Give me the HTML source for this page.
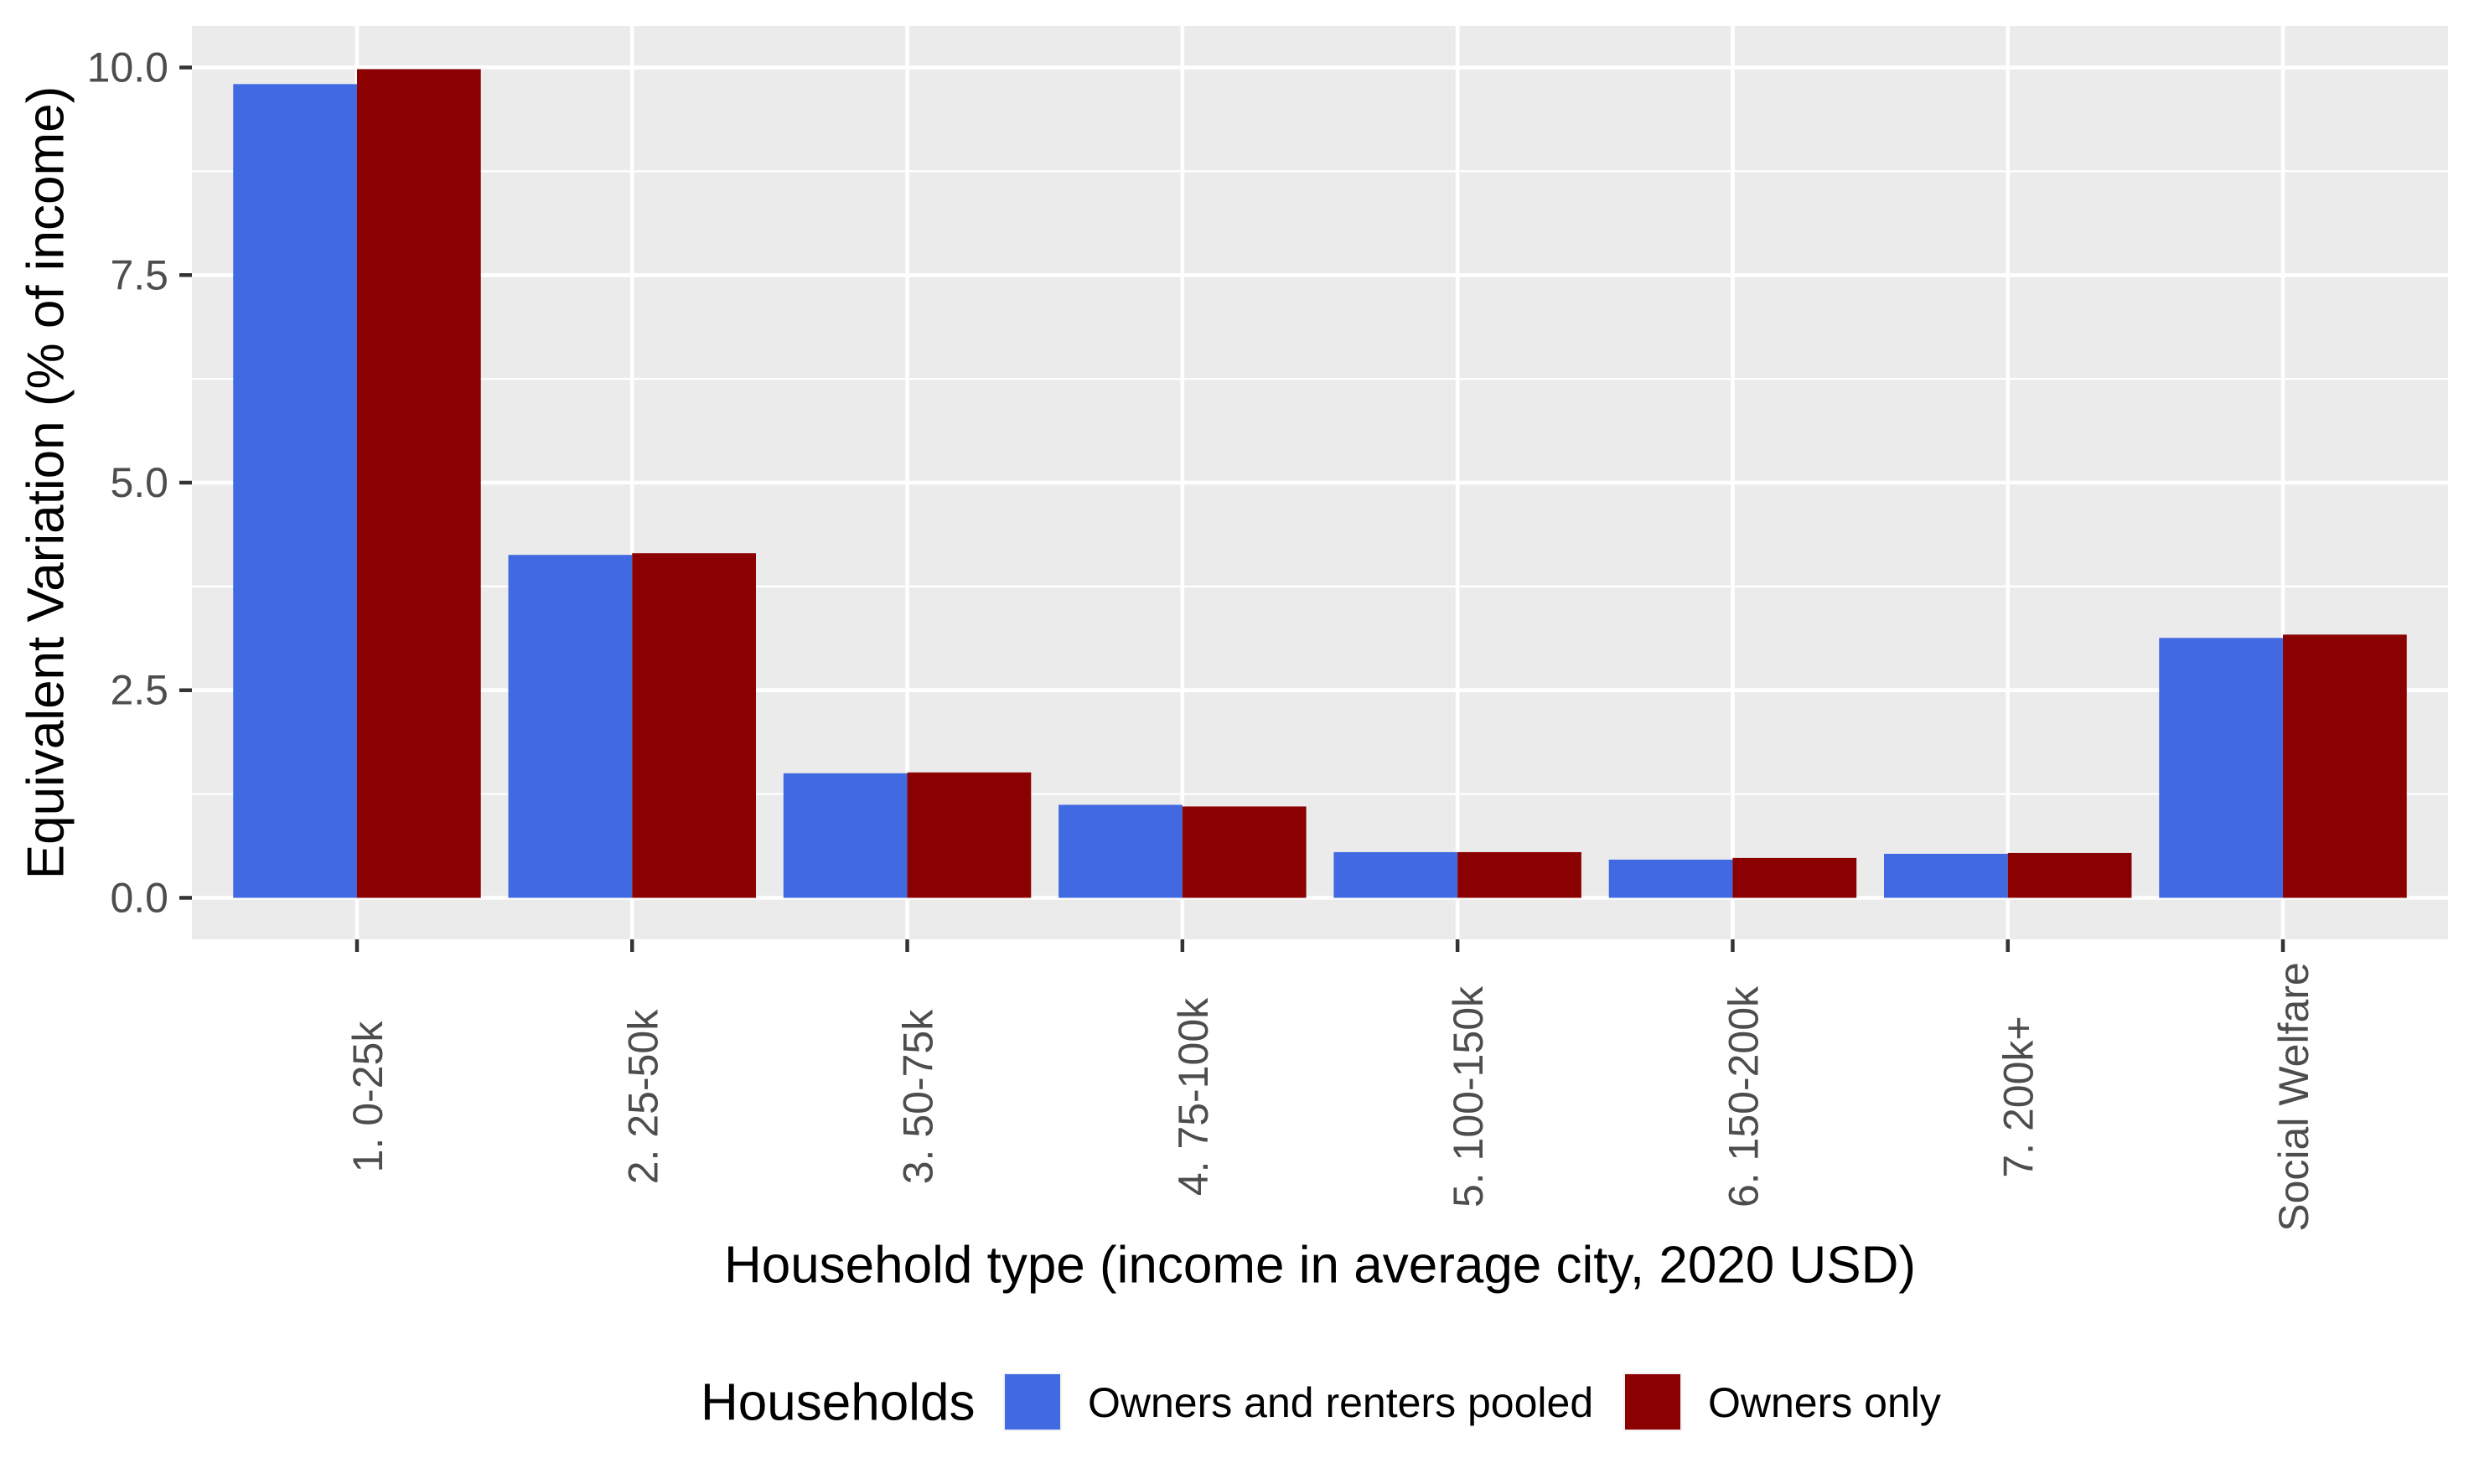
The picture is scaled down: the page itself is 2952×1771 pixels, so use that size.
<!DOCTYPE html>
<html><head><meta charset="utf-8"><style>
html,body{margin:0;padding:0;background:#fff;}
svg{display:block;font-family:"Liberation Sans",Arial,sans-serif;}
</style></head><body>
<svg id="chart" width="2952" height="1771" viewBox="0 0 2952 1771" xmlns="http://www.w3.org/2000/svg">
<rect x="0" y="0" width="2952" height="1771" fill="#fff"/>
<g id="panel"></g>
<text x="55" y="576" transform="rotate(-90 55 576)" text-anchor="middle" dominant-baseline="central" font-size="62" fill="#000">Equivalent Variation (% of income)</text>
<text x="1575" y="1510" text-anchor="middle" dominant-baseline="central" font-size="62" fill="#000">Household type (income in average city, 2020 USD)</text>
<g>
<text x="836" y="1674" dominant-baseline="central" font-size="62" fill="#000">Households</text>
<rect x="1197" y="1638" width="70" height="70" fill="#F2F2F2"/>
<rect x="1199" y="1640" width="66" height="66" fill="#4169E1"/>
<text x="1298" y="1674" dominant-baseline="central" font-size="50" fill="#000">Owners and renters pooled</text>
<rect x="1937" y="1638" width="70" height="70" fill="#F2F2F2"/>
<rect x="1939" y="1640" width="66" height="66" fill="#8B0000"/>
<text x="2038" y="1674" dominant-baseline="central" font-size="50" fill="#000">Owners only</text>
</g>
</svg>
<script>
const categories = ["1. 0-25k","2. 25-50k","3. 50-75k","4. 75-100k","5. 100-150k","6. 150-200k","7. 200k+","Social Welfare"];
const pooledValues = [9.80, 4.13, 1.50, 1.12, 0.55, 0.46, 0.53, 3.13];
const ownersValues = [9.98, 4.15, 1.51, 1.10, 0.55, 0.48, 0.54, 3.17];
const yTicks = [0, 2.5, 5, 7.5, 10];
const yTickLabels = ["0.0","2.5","5.0","7.5","10.0"];
const yMinor = [1.25, 3.75, 6.25, 8.75];

const NS = "http://www.w3.org/2000/svg";
const PL = 229, PR = 2921, PT = 31, PB = 1121;
const yMin = -0.5, yMax = 10.5;
function yScale(v){ return PB - (v - yMin) / (yMax - yMin) * (PB - PT); }
const unit = (PR - PL) / (categories.length - 1 + 1.2);
function xScale(i){ return PL + (0.6 + i) * unit; }
const barW = 0.45 * unit;

const svg = document.getElementById('chart');
const panel = document.getElementById('panel');
function mk(tag, attrs, parent){
  const e = document.createElementNS(NS, tag);
  for (const k in attrs) e.setAttribute(k, attrs[k]);
  (parent || svg).appendChild(e);
  return e;
}
const bg = mk('rect', {x:PL, y:PT, width:PR-PL, height:PB-PT, fill:'#EBEBEB'}, panel);



yMinor.forEach(v => {
  const l = mk('line', {x1:PL, x2:PR, y1:yScale(v), y2:yScale(v), stroke:'#fff', 'stroke-width':2.3}, panel);
  
  
});
yTicks.forEach((v, i) => {
  const y = yScale(v);
  const l = mk('line', {x1:PL, x2:PR, y1:y, y2:y, stroke:'#fff', 'stroke-width':4.6}, panel);
  
  
  const t = mk('line', {x1:PL-15, x2:PL, y1:y, y2:y, stroke:'#333', 'stroke-width':4.5});
  
  
  const tx = mk('text', {x:PL-28, y:y, 'text-anchor':'end', 'dominant-baseline':'central', 'font-size':50, fill:'#4D4D4D'});
  tx.textContent = yTickLabels[i];
  
  
});
categories.forEach((c, i) => {
  const x = xScale(i);
  const l = mk('line', {x1:x, x2:x, y1:PT, y2:PB, stroke:'#fff', 'stroke-width':4.6}, panel);
  
  
});
categories.forEach((c, i) => {
  const x = xScale(i);
  const b1 = mk('rect', {x:x-barW, y:yScale(pooledValues[i]), width:barW, height:yScale(0)-yScale(pooledValues[i]), fill:'#4169E1'}, panel);
  
  
  const b2 = mk('rect', {x:x, y:yScale(ownersValues[i]), width:barW, height:yScale(0)-yScale(ownersValues[i]), fill:'#8B0000'}, panel);
  
  
  const t = mk('line', {x1:x, x2:x, y1:PB, y2:PB+15, stroke:'#333', 'stroke-width':4.5});
  
  
  const ly = 1309, lx = x + 30;
  const tx = mk('text', {x:lx, y:ly, transform:'rotate(-90 '+lx+' '+ly+')', 'text-anchor':'middle', 'font-size':50, fill:'#4D4D4D'});
  tx.textContent = c;
  
  
});
</script>
</body></html>
